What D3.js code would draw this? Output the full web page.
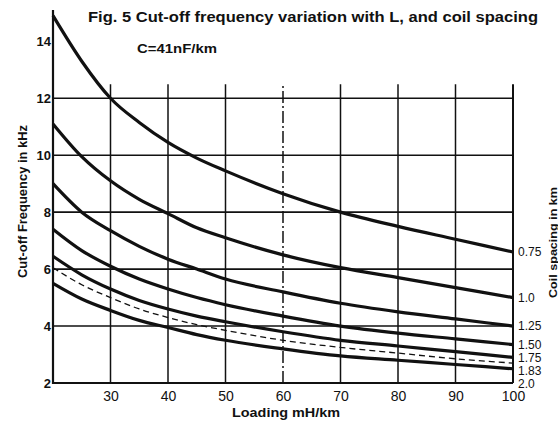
<!DOCTYPE html>
<meta charset="utf-8">
<script src="https://d3js.org/d3.v7.min.js"></script>
<style>
  body { margin: 0; background: #fff; }
  text { font-family: "Liberation Sans", Arial, sans-serif; fill: #111; }
</style>
<div id="chart"></div>
<script>
const loading = [20, 25, 30, 35, 40, 45, 50, 60, 70, 80, 90, 100];
// Coil spacing (km), one curve each
const spacings = ["0.75", "1.0", "1.25", "1.50", "1.75", "1.83", "2.0"];
// Cut-off frequency in kHz
const fc075 = [14.9, 13.3, 12.0, 11.15, 10.45, 9.9, 9.45, 8.65, 8.0, 7.5, 7.05, 6.6];
const fc100 = [11.1, 9.95, 9.1, 8.45, 7.95, 7.45, 7.1, 6.5, 6.05, 5.7, 5.35, 5.0];
const fc125 = [9.0, 8.0, 7.35, 6.8, 6.35, 6.0, 5.65, 5.2, 4.8, 4.5, 4.25, 4.0];
const fc150 = [7.4, 6.65, 6.1, 5.65, 5.3, 5.0, 4.75, 4.35, 4.0, 3.75, 3.55, 3.35];
const fc175 = [6.45, 5.8, 5.3, 4.9, 4.6, 4.35, 4.15, 3.8, 3.5, 3.3, 3.1, 2.9];
const fc183 = [6.05, 5.45, 5.0, 4.6, 4.3, 4.05, 3.85, 3.5, 3.25, 3.05, 2.85, 2.7];
const fc200 = [5.5, 4.95, 4.55, 4.2, 3.95, 3.7, 3.5, 3.2, 2.95, 2.8, 2.65, 2.5];
const xTicks = [30, 40, 50, 60, 70, 80, 90, 100];
const yTicks = [2, 4, 6, 8, 10, 12, 14];
const gridY = [4, 6, 8, 10, 12];

const series = [fc075, fc100, fc125, fc150, fc175, fc183, fc200].map((vals, i) => ({
  spacing: spacings[i],
  dashed: spacings[i] === "1.83",
  values: vals.map((v, j) => ({ L: loading[j], f: v }))
}));

const margin = {top: 10, right: 45, bottom: 38, left: 53},
      width = 558 - margin.left - margin.right,
      height = 421 - margin.top - margin.bottom;

const root = d3.select("#chart").append("svg")
    .attr("width", 558).attr("height", 421);

const svg = root.append("g")
    .attr("transform", `translate(${margin.left},${margin.top})`);

const x = d3.scaleLinear().domain([20, 100]).range([0, width]);
const y = d3.scaleLinear().domain([2, 15.1]).range([height, 0]);

const gridTop = y(12) - 14;

// horizontal grid
svg.selectAll("line.hgrid").data(gridY).enter().append("line")
    .attr("x1", 0).attr("x2", width)
    .attr("y1", d => y(d)).attr("y2", d => y(d))
    .attr("stroke", "#111").attr("stroke-width", 1.6);

// vertical grid (60 line is dash-dot on the original)
svg.selectAll("line.vgrid").data(xTicks).enter().append("line")
    .attr("x1", d => x(d)).attr("x2", d => x(d))
    .attr("y1", height).attr("y2", gridTop)
    .attr("stroke", "#111")
    .attr("stroke-width", d => d === 100 ? 2 : 1.5)
    .attr("stroke-dasharray", d => d === 60 ? "12,3,2,3" : null);

// left and bottom axis lines
svg.append("line").attr("x1", 0).attr("x2", 0).attr("y1", height + 1).attr("y2", 0)
    .attr("stroke", "#111").attr("stroke-width", 2.2);
svg.append("line").attr("x1", -1).attr("x2", width).attr("y1", height).attr("y2", height)
    .attr("stroke", "#111").attr("stroke-width", 2);

// axes
const xAxis = svg.append("g").attr("transform", `translate(0,${height})`)
    .call(d3.axisBottom(x).tickValues(xTicks).tickSize(0).tickPadding(8));
xAxis.select(".domain").remove();
xAxis.selectAll("text").style("font-size", "14px").attr("fill", "#111");

const yAxis = svg.append("g")
    .call(d3.axisLeft(y).tickValues(yTicks).tickSize(0).tickPadding(2));
yAxis.select(".domain").remove();
yAxis.selectAll("text").style("font-size", "13px").style("font-weight", "bold").attr("fill", "#111");

// curves
const line = d3.line().x(d => x(d.L)).y(d => y(d.f)).curve(d3.curveMonotoneX);
svg.selectAll("path.curve").data(series).enter().append("path")
    .attr("class", "curve")
    .attr("d", d => line(d.values))
    .attr("fill", "none")
    .attr("stroke", "#111")
    .attr("stroke-width", d => d.dashed ? 1.3 : 3.2)
    .attr("stroke-dasharray", d => d.dashed ? "6,4" : null);

// spacing labels at right end, pushed apart so they don't overlap
let prev = -Infinity;
series.forEach(s => {
  let yy = Math.max(y(s.values[s.values.length - 1].f), prev + 13);
  prev = yy;
  svg.append("text")
      .attr("x", width + 5).attr("y", yy).attr("dy", "0.35em")
      .style("font-size", "12px")
      .text(s.spacing);
});

// titles
root.append("text").attr("x", 88).attr("y", 22)
    .style("font-size", "15px").style("font-weight", "bold")
    .attr("textLength", 450).attr("lengthAdjust", "spacingAndGlyphs")
    .text("Fig. 5  Cut-off frequency variation with L, and coil spacing");
root.append("text").attr("x", 137).attr("y", 53)
    .style("font-size", "12px").style("font-weight", "bold")
    .attr("textLength", 80).attr("lengthAdjust", "spacingAndGlyphs")
    .text("C=41nF/km");

// axis labels
root.append("text")
    .attr("transform", "translate(27,278) rotate(-90)")
    .style("font-size", "12px").style("font-weight", "bold")
    .attr("textLength", 153).attr("lengthAdjust", "spacingAndGlyphs")
    .text("Cut-off Frequency in kHz");
root.append("text").attr("x", 232).attr("y", 417)
    .style("font-size", "12px").style("font-weight", "bold")
    .attr("textLength", 108).attr("lengthAdjust", "spacingAndGlyphs")
    .text("Loading mH/km");
root.append("text")
    .attr("transform", "translate(557,298) rotate(-90)")
    .style("font-size", "11px").style("font-weight", "bold")
    .attr("textLength", 111).attr("lengthAdjust", "spacingAndGlyphs")
    .text("Coil spacing in km");
</script>
